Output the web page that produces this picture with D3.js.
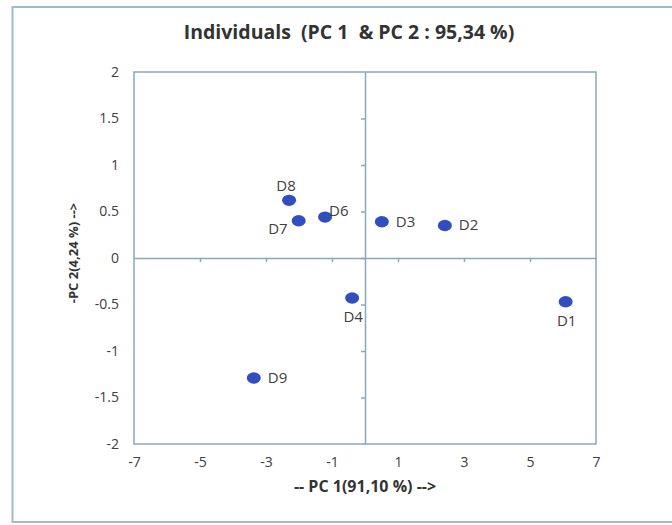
<!DOCTYPE html>
<html>
<head>
<meta charset="utf-8">
<script src="https://cdn.jsdelivr.net/npm/d3@7"></script>
<style>
  body { margin: 0; background: #fff; }
  svg { font-family: "Open Sans", "Liberation Sans", sans-serif; }
  text { white-space: pre; }
</style>
</head>
<body>
<svg width="672" height="525"></svg>
<script>
// individuals on the first two components
var names = ['D1', 'D2', 'D3', 'D4', 'D6', 'D7', 'D8', 'D9']
var pc1 = [6.08, 2.42, 0.51, -0.39, -1.21, -2.01, -2.30, -3.37]
var pc2 = [-0.47, 0.35, 0.39, -0.43, 0.44, 0.40, 0.62, -1.29]
var labelSide = ['below', 'right', 'right', 'below', 'rightUp', 'leftDown', 'above', 'right']

var xTicks = [-7, -5, -3, -1, 1, 3, 5, 7]
var yTicks = [-2, -1.5, -1, -0.5, 0, 0.5, 1, 1.5, 2]

var svg = d3.select('svg')

// outer frame
svg.append('rect')
    .attr('x', 12.5).attr('y', 7)
    .attr('width', 680).attr('height', 515)
    .attr('fill', 'none')
    .attr('stroke', '#9dbbd0')
    .attr('stroke-width', 2)

var mapX = d3.scaleLinear().domain([-7, 7]).range([134, 596])
var mapY = d3.scaleLinear().domain([-2, 2]).range([444, 72])

var axisColor = '#87a9bb'

// plot box
svg.append('rect')
    .attr('x', mapX(-7)).attr('y', mapY(2))
    .attr('width', mapX(7) - mapX(-7))
    .attr('height', mapY(-2) - mapY(2))
    .attr('fill', 'none')
    .attr('stroke', axisColor)
    .attr('stroke-width', 1.5)

// zero axes with small ticks
svg.append('g')
    .attr('transform', `translate(0, ${mapY(0)})`)
    .call(d3.axisBottom(mapX).tickValues(xTicks.slice(1, -1)).tickFormat('').tickSize(4).tickSizeOuter(0))
svg.append('g')
    .attr('transform', `translate(${mapX(0)}, 0)`)
    .call(d3.axisLeft(mapY).tickValues(yTicks.slice(1, -1)).tickFormat('').tickSize(4).tickSizeOuter(0))
svg.selectAll('.domain, .tick line')
    .attr('stroke', axisColor)
    .attr('stroke-width', 1.5)

// tick labels, plain hyphen for negatives
var plain = function(d){ return String(d) }
var bottomAxis = svg.append('g')
    .attr('transform', `translate(0, ${mapY(-2) + 7})`)
    .call(d3.axisBottom(mapX).tickValues(xTicks).tickSize(0).tickFormat(plain))
var leftAxis = svg.append('g')
    .attr('transform', `translate(${mapX(-7) - 15}, 0)`)
    .call(d3.axisLeft(mapY).tickValues(yTicks).tickSize(0).tickFormat(plain))
;[bottomAxis, leftAxis].forEach(function(a){
    a.select('.domain').remove()
    a.selectAll('text')
        .attr('fill', '#404040')
        .style('font-size', '14px')
        .style('font-family', '"Open Sans", "Liberation Sans", sans-serif')
})
bottomAxis.selectAll('text').attr('dy', '0.9em')
leftAxis.selectAll('text').attr('x', 0)

// points
var pts = names.map(function(n, i){
    return { name: n, x: pc1[i], y: pc2[i], side: labelSide[i] }
})

var groups = svg.selectAll('g.pt')
    .data(pts)
    .enter()
    .append('g')
    .attr('class', 'pt')
    .attr('transform', function(d){
        return `translate(${mapX(d.x)}, ${mapY(d.y)})`
    })

groups.append('ellipse')
    .attr('rx', 7)
    .attr('ry', 5.7)
    .attr('fill', '#2f4fbf')

var offsets = {
    below:    [1, 24, 'middle'],
    above:    [-3, -9, 'middle'],
    right:    [14, 5, 'start'],
    rightUp:  [4, -1, 'start'],
    leftDown: [-11, 13, 'end']
}

groups.append('text')
    .text(function(d){ return d.name })
    .attr('x', function(d){ return offsets[d.side][0] })
    .attr('y', function(d){ return offsets[d.side][1] })
    .attr('text-anchor', function(d){ return offsets[d.side][2] })
    .attr('fill', '#404040')
    .style('font-size', '15px')

// titles
svg.append('text')
    .attr('x', 349).attr('y', 39)
    .attr('text-anchor', 'middle')
    .attr('fill', '#333')
    .style('font-size', '19.5px')
    .style('font-weight', 'bold')
    .text('Individuals  (PC 1  & PC 2 : 95,34 %)')

svg.append('text')
    .attr('x', 365).attr('y', 492)
    .attr('text-anchor', 'middle')
    .attr('fill', '#333')
    .style('font-size', '16px')
    .style('font-weight', 'bold')
    .text('-- PC 1(91,10 %) -->')

svg.append('text')
    .attr('transform', 'translate(78, 253) rotate(-90)')
    .attr('text-anchor', 'middle')
    .attr('fill', '#333')
    .style('font-size', '13px')
    .style('font-weight', 'bold')
    .text('-PC 2(4,24 %) -->')
</script>
</body>
</html>
